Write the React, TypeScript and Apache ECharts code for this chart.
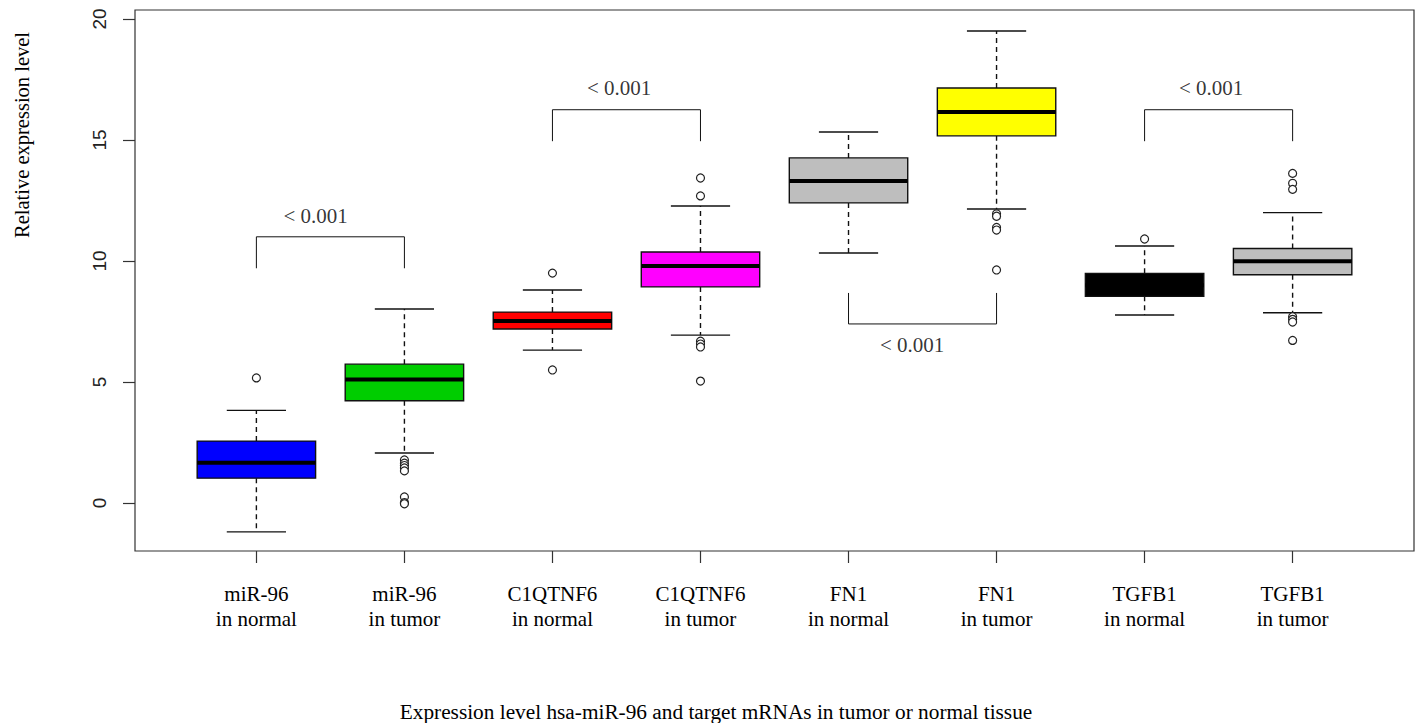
import React, { useEffect, useRef } from "react";
import * as echarts from "echarts";

const categories = [
  "miR-96\nin normal",
  "miR-96\nin tumor",
  "C1QTNF6\nin normal",
  "C1QTNF6\nin tumor",
  "FN1\nin normal",
  "FN1\nin tumor",
  "TGFB1\nin normal",
  "TGFB1\nin tumor",
];
const boxColors = ["#0000FF", "#00CD00", "#FF0000", "#FF00FF", "#BEBEBE", "#FFFF00", "#000000", "#BEBEBE"];
const lowWhisker = [-1.19, 2.07, 6.32, 6.94, 10.33, 12.15, 7.77, 7.86];
const q1 = [1.03, 4.23, 7.19, 8.93, 12.4, 15.17, 8.54, 9.43];
const median = [1.67, 5.11, 7.52, 9.79, 13.31, 16.16, 9.0, 9.99];
const q3 = [2.56, 5.74, 7.89, 10.37, 14.26, 17.15, 9.49, 10.52];
const highWhisker = [3.83, 8.02, 8.8, 12.27, 15.33, 19.5, 10.62, 12.0];
const outliers: number[][] = [
  [5.17],
  [1.78, 1.65, 1.55, 1.45, 1.33, 0.25, 0.02, -0.03],
  [9.5, 5.5],
  [13.43, 12.69, 6.69, 6.57, 6.45, 5.04],
  [],
  [11.95, 11.85, 11.39, 11.28, 9.63],
  [10.91],
  [13.62, 13.21, 12.96, 7.7, 7.59, 7.48, 6.72],
];
const yTicks = [0, 5, 10, 15, 20];
const xTicks = [1, 2, 3, 4, 5, 6, 7, 8];

// significance brackets: [x1, x2, legEnd, bar]
const brackets = [
  [1, 2, 9.7, 11.0],
  [3, 4, 14.95, 16.25],
  [5, 6, 8.68, 7.4],
  [7, 8, 14.95, 16.25],
];
const pLabels = [
  [1.4, 11.88],
  [3.45, 17.15],
  [5.43, 6.53],
  [7.45, 17.15],
];
const pText = "< 0.001";

const SERIF = "'Liberation Serif', 'Times New Roman', serif";
const SANS = "'Liberation Sans', Arial, sans-serif";

export default function App() {
  const ref = useRef<HTMLDivElement>(null);
  useEffect(() => {
    if (!ref.current) return;
    const chart = echarts.init(ref.current, undefined, { renderer: "svg" });
    const boxData = categories.map((_, i) => [i + 1, lowWhisker[i], q1[i], median[i], q3[i], highWhisker[i], i]);
    const outData: number[][] = [];
    outliers.forEach((arr, i) => arr.forEach((v) => outData.push([i + 1, v])));

    const bracketSeries = brackets.map((b) => ({
      type: "line",
      data: [
        [b[0], b[2]],
        [b[0], b[3]],
        [b[1], b[3]],
        [b[1], b[2]],
      ],
      symbol: "none",
      lineStyle: { color: "#111", width: 1 },
      silent: true,
      z: 3,
    }));

    const option: any = {
      animation: false,
      backgroundColor: "#fff",
      grid: {
        left: 135,
        right: 5,
        top: 10,
        bottom: 172,
        show: true,
        borderColor: "#333",
        borderWidth: 1.2,
      },
      xAxis: {
        type: "value",
        min: 0.18,
        max: 8.82,
        axisLine: { show: false, onZero: false },
        splitLine: { show: false },
        axisTick: { show: true, customValues: xTicks, length: 12, lineStyle: { color: "#333", width: 1.2 } },
        axisLabel: {
          customValues: xTicks,
          formatter: (v: number) => categories[Math.round(v) - 1] ?? "",
          fontFamily: SERIF,
          fontSize: 21,
          lineHeight: 25,
          color: "#000",
          margin: 30,
        },
      },
      yAxis: {
        type: "value",
        min: -1.98,
        max: 20.37,
        axisLine: { show: false, onZero: false },
        splitLine: { show: false },
        axisTick: { show: true, customValues: yTicks, length: 12, lineStyle: { color: "#333", width: 1.2 } },
        axisLabel: {
          customValues: yTicks,
          rotate: 90,
          fontFamily: SANS,
          fontSize: 19,
          color: "#222",
          margin: 26,
        },
      },
      graphic: [
        {
          type: "text",
          x: 22,
          y: 135,
          rotation: Math.PI / 2,
          style: {
            text: "Relative expression level",
            font: `20.5px ${SERIF}`,
            fill: "#000",
            align: "center",
            verticalAlign: "middle",
          },
        },
        {
          type: "text",
          x: 716,
          y: 712,
          style: {
            text: "Expression level hsa-miR-96 and target mRNAs in tumor or normal tissue",
            font: `21.3px ${SERIF}`,
            fill: "#000",
            align: "center",
            verticalAlign: "middle",
          },
        },
      ],
      series: [
        {
          type: "custom",
          data: boxData,
          encode: { x: 0, y: [1, 2, 3, 4, 5] },
          z: 2,
          renderItem: (_params: any, api: any) => {
            const x = api.value(0);
            const idx = api.value(6);
            const pLow = api.coord([x, api.value(1)]);
            const pQ1 = api.coord([x, api.value(2)]);
            const pMed = api.coord([x, api.value(3)]);
            const pQ3 = api.coord([x, api.value(4)]);
            const pHigh = api.coord([x, api.value(5)]);
            const halfBox = api.size([0.4, 0])[0];
            const halfCap = api.size([0.2, 0])[0];
            const cx = pMed[0];
            const stroke = "#111";
            return {
              type: "group",
              children: [
                {
                  type: "line",
                  shape: { x1: cx, y1: pQ3[1], x2: cx, y2: pHigh[1] },
                  style: { stroke, lineWidth: 1.4, lineDash: [5, 4] },
                },
                {
                  type: "line",
                  shape: { x1: cx, y1: pQ1[1], x2: cx, y2: pLow[1] },
                  style: { stroke, lineWidth: 1.4, lineDash: [5, 4] },
                },
                {
                  type: "line",
                  shape: { x1: cx - halfCap, y1: pHigh[1], x2: cx + halfCap, y2: pHigh[1] },
                  style: { stroke, lineWidth: 1.4 },
                },
                {
                  type: "line",
                  shape: { x1: cx - halfCap, y1: pLow[1], x2: cx + halfCap, y2: pLow[1] },
                  style: { stroke, lineWidth: 1.4 },
                },
                {
                  type: "rect",
                  shape: { x: cx - halfBox, y: pQ3[1], width: halfBox * 2, height: pQ1[1] - pQ3[1] },
                  style: { fill: boxColors[idx], stroke, lineWidth: 1.4 },
                },
                {
                  type: "line",
                  shape: { x1: cx - halfBox, y1: pMed[1], x2: cx + halfBox, y2: pMed[1] },
                  style: { stroke: "#000", lineWidth: 4 },
                },
              ],
            };
          },
        },
        {
          type: "scatter",
          data: outData,
          symbol: "circle",
          symbolSize: 8,
          itemStyle: { color: "#ffffff", borderColor: "#222", borderWidth: 1.2, opacity: 1 },
          z: 4,
        },
        ...bracketSeries,
        {
          type: "scatter",
          data: pLabels,
          symbolSize: 1,
          itemStyle: { color: "rgba(0,0,0,0)" },
          label: {
            show: true,
            position: "inside",
            formatter: () => pText,
            fontFamily: SERIF,
            fontSize: 21,
            color: "#000",
          },
          z: 5,
        },
      ],
    };
    chart.setOption(option);
    return () => chart.dispose();
  }, []);
  return (
    <div
      ref={ref}
      style={{ position: "absolute", left: 0, top: 0, width: 1419, height: 723 }}
    />
  );
}
